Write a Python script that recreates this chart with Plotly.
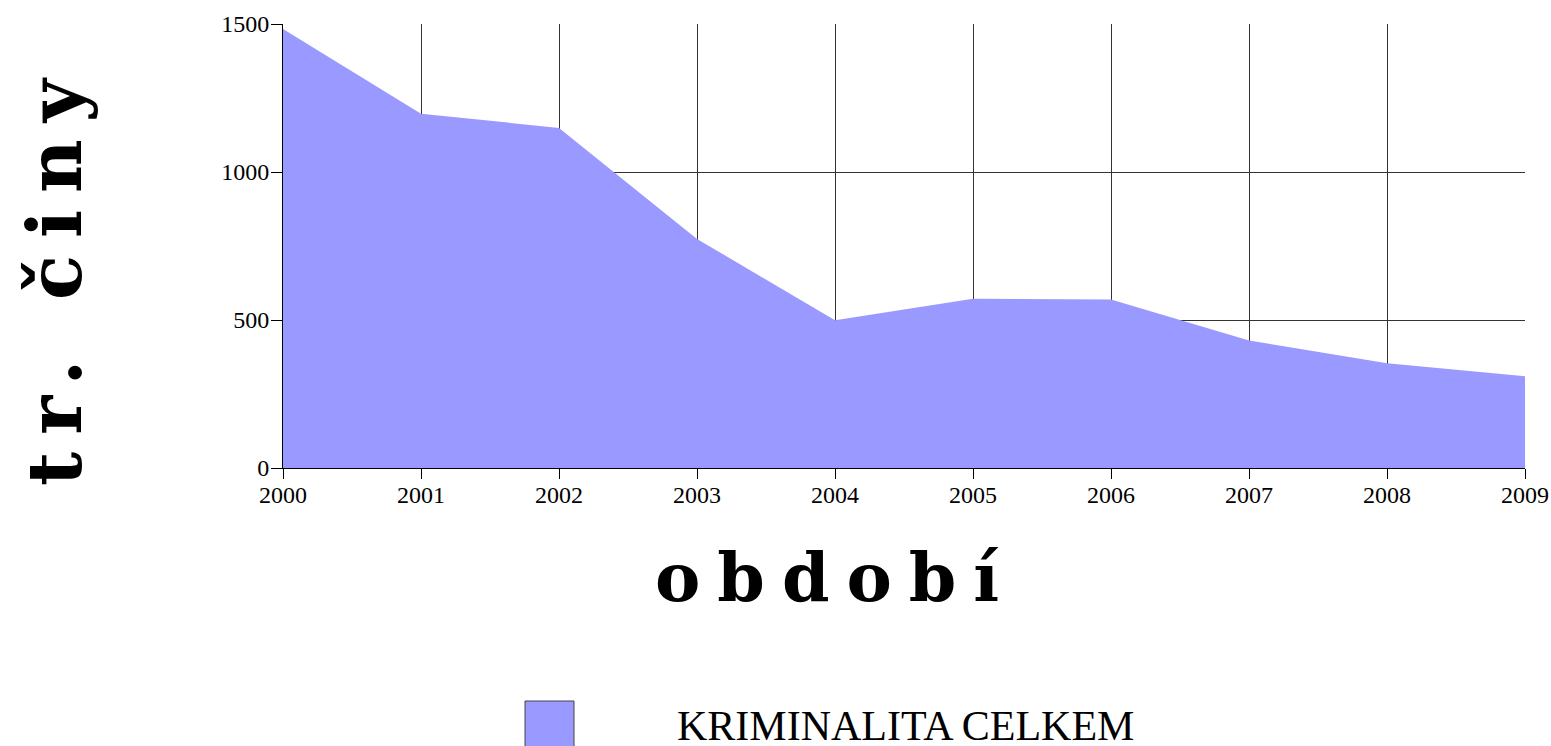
import plotly.graph_objects as go

years = [2000, 2001, 2002, 2003, 2004, 2005, 2006, 2007, 2008, 2009]
kriminalita_celkem = [1483, 1197, 1149, 774, 499, 572, 569, 431, 354, 310]
series_name = "KRIMINALITA CELKEM"
y_ticks = [0, 500, 1000, 1500]
x_title = "období"
y_title = "tr. činy"

FILL = "#9999FF"
GRID = "#333333"
TICKFONT = dict(family="Liberation Serif", size=24, color="black")

fig = go.Figure()
fig.add_trace(go.Scatter(
    x=years, y=kriminalita_celkem, mode="lines", fill="tozeroy",
    fillcolor=FILL, line=dict(color=FILL, width=0), name=series_name,
    showlegend=False, hoverinfo="x+y",
))

L, R, T, B = 283, 26, 24, 278
W, H = 1551, 746
pw, ph = W - L - R, H - T - B

def px(x):
    return (x - L) / pw

def py(y):
    return (H - B - y) / ph

fig.update_layout(
    template="none",
    width=W, height=H, autosize=False,
    margin=dict(l=L, r=R, t=T, b=B, pad=0, autoexpand=False),
    paper_bgcolor="white", plot_bgcolor="white",
    showlegend=False,
    xaxis=dict(
        range=[years[0], years[-1]], tickvals=years, ticktext=[str(v) for v in years],
        showgrid=True, gridcolor=GRID, gridwidth=1, zeroline=False, automargin=False,
        showline=True, linecolor="black", linewidth=1,
        ticks="outside", ticklen=10, tickcolor="black", tickwidth=1,
        tickfont=TICKFONT, ticklabelstandoff=-5,
    ),
    yaxis=dict(
        range=[0, 1500], tickvals=y_ticks, ticktext=[str(v) for v in y_ticks],
        showgrid=True, gridcolor=GRID, gridwidth=1, zeroline=False, automargin=False,
        showline=True, linecolor="black", linewidth=1,
        ticks="outside", ticklen=11, tickcolor="black", tickwidth=1,
        tickfont=TICKFONT, ticklabelstandoff=-3,
    ),
    xaxis2=dict(
        overlaying="x", anchor="y", side="bottom", automargin=False,
        range=[years[0], years[-1]], tickvals=years, showticklabels=False,
        showgrid=False, zeroline=False, showline=False,
        ticks="inside", ticklen=10, tickcolor="black", tickwidth=1,
    ),
    yaxis2=dict(
        overlaying="y", anchor="x", side="left", automargin=False,
        range=[0, 1500], tickvals=y_ticks, showticklabels=False,
        showgrid=False, zeroline=False, showline=False,
        ticks="inside", ticklen=10, tickcolor="black", tickwidth=1,
    ),
)

fig.add_annotation(
    text='<span style="letter-spacing:17px">' + x_title + '</span>',
    xref="paper", yref="paper", x=px(835), y=py(577),
    xanchor="center", yanchor="middle", showarrow=False,
    font=dict(family="DejaVu Serif", size=68, color="black", weight="bold"),
)
fig.add_annotation(
    text='<span style="letter-spacing:17px">' + y_title + '</span>',
    xref="paper", yref="paper", x=px(55), y=py(274),
    xanchor="center", yanchor="middle", showarrow=False,
    font=dict(family="DejaVu Serif", size=74, color="black", weight="bold"),
    textangle=-90,
)

# legend drawn manually (large swatch)
fig.add_shape(
    type="rect", xref="paper", yref="paper",
    x0=px(525), x1=px(574), y0=py(701), y1=py(752),
    fillcolor=FILL, line=dict(color="#444444", width=1),
)
fig.add_annotation(
    text=series_name, xref="paper", yref="paper", x=px(675), y=py(726),
    xanchor="left", yanchor="middle", showarrow=False,
    font=dict(family="Liberation Serif", size=42, color="black"),
)

fig.write_html(
    "out.html",
    config={"displayModeBar": False},
    post_script="document.body.style.margin='0';document.body.style.padding='0';"
                "document.documentElement.style.overflow='hidden';document.body.style.overflow='hidden';",
)
